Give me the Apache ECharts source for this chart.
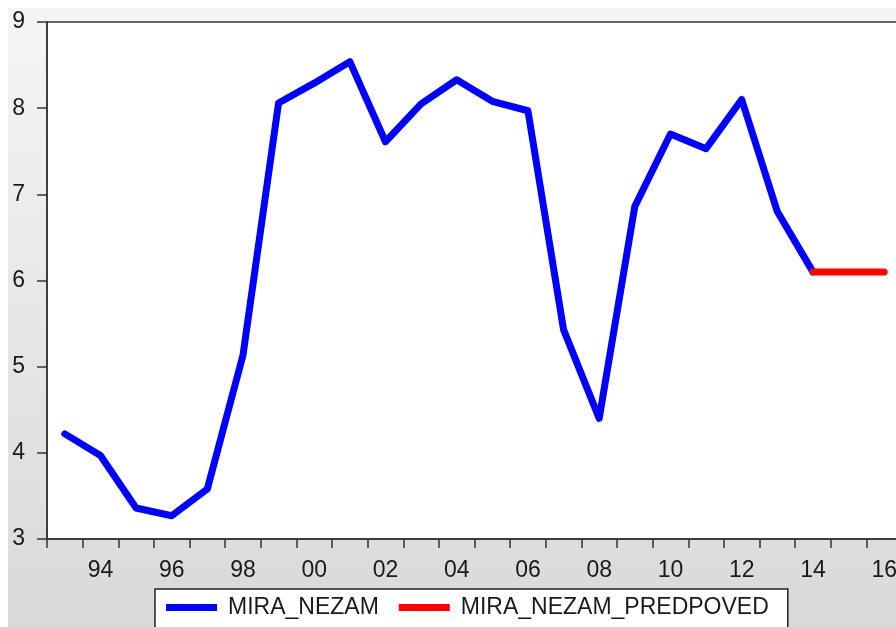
<!DOCTYPE html>
<html>
<head>
<meta charset="utf-8">
<script src="https://cdn.jsdelivr.net/npm/echarts@6/dist/echarts.min.js"></script>
<style>
  html, body { margin: 0; padding: 0; background: #ffffff; }
  #wrap { position: relative; width: 896px; height: 627px; overflow: hidden; }
  #frame { position: absolute; left: 8px; top: 8px; right: 0; bottom: 0;
           background: linear-gradient(#f5f5f5, #d9d9d9); }
  /* the plot runs past the right edge, so the canvas is wider than the window */
  #chart { position: absolute; left: 0; top: 0; width: 920px; height: 627px; }
</style>
</head>
<body>
<div id="wrap">
  <div id="frame"></div>
  <div id="chart"></div>
</div>
<script>
// Annual observations 1993-2016
const years = ['1993','1994','1995','1996','1997','1998','1999','2000','2001','2002','2003',
               '2004','2005','2006','2007','2008','2009','2010','2011','2012','2013','2014',
               '2015','2016'];

// Actual rate, 1993-2014
const miraNezam = [4.22, 3.97, 3.36, 3.27, 3.58, 5.13, 8.06, 8.29, 8.54, 7.61, 8.05,
                   8.33, 8.08, 7.97, 5.43, 4.40, 6.86, 7.70, 7.53, 8.10, 6.80, 6.10,
                   null, null];

// Forecast, 2014-2016
const miraNezamPredpoved = [null, null, null, null, null, null, null, null, null, null, null,
                            null, null, null, null, null, null, null, null, null, null, 6.10,
                            6.10, 6.10];

const yTicks = { min: 3, max: 9, step: 1 };

const font = '"Liberation Sans", Arial, sans-serif';
const ink = '#1a1a1a';

const chart = echarts.init(document.getElementById('chart'), null, { renderer: 'canvas' });

chart.setOption({
  backgroundColor: 'transparent',
  animation: false,
  grid: {
    left: 47, top: 22, width: 855, bottom: 88,
    show: true, backgroundColor: '#ffffff',
    borderColor: '#333333', borderWidth: 1.5
  },
  legend: {
    left: 155, top: 589,
    backgroundColor: '#ffffff',
    borderColor: '#222222', borderWidth: 1.5, borderRadius: 0,
    padding: [7, 19, 24, 11],
    itemWidth: 51, itemHeight: 7, itemGap: 20,
    icon: 'rect',
    textStyle: { fontFamily: font, fontSize: 23, color: ink, padding: [0, 0, 0, 6] },
    data: ['MIRA_NEZAM', 'MIRA_NEZAM_PREDPOVED']
  },
  xAxis: {
    type: 'category',
    data: years,
    boundaryGap: true,
    axisLine: { lineStyle: { color: '#333333', width: 1.5 } },
    axisTick: { show: true, interval: 0, length: 9, alignWithLabel: false,
                lineStyle: { color: '#333333', width: 1.5 } },
    axisLabel: {
      interval: (i) => i % 2 === 1,
      formatter: (v) => v.slice(2),
      margin: 20,
      fontFamily: font, fontSize: 23, color: ink
    },
    splitLine: { show: false }
  },
  yAxis: {
    type: 'value',
    min: yTicks.min, max: yTicks.max, interval: yTicks.step,
    axisLine: { show: true, lineStyle: { color: '#333333', width: 1.5 } },
    axisTick: { show: true, length: 10, lineStyle: { color: '#333333', width: 1.5 } },
    axisLabel: { margin: 22, fontFamily: font, fontSize: 23, color: ink },
    splitLine: { show: false }
  },
  series: [
    {
      name: 'MIRA_NEZAM',
      type: 'line',
      data: miraNezam,
      symbol: 'none',
      connectNulls: false,
      itemStyle: { color: '#0000ff' },
      lineStyle: { color: '#0000ff', width: 7, join: 'round', cap: 'round' }
    },
    {
      name: 'MIRA_NEZAM_PREDPOVED',
      type: 'line',
      data: miraNezamPredpoved,
      symbol: 'none',
      itemStyle: { color: '#ff0000' },
      lineStyle: { color: '#ff0000', width: 7, join: 'round', cap: 'round' }
    }
  ]
});
</script>
</body>
</html>
